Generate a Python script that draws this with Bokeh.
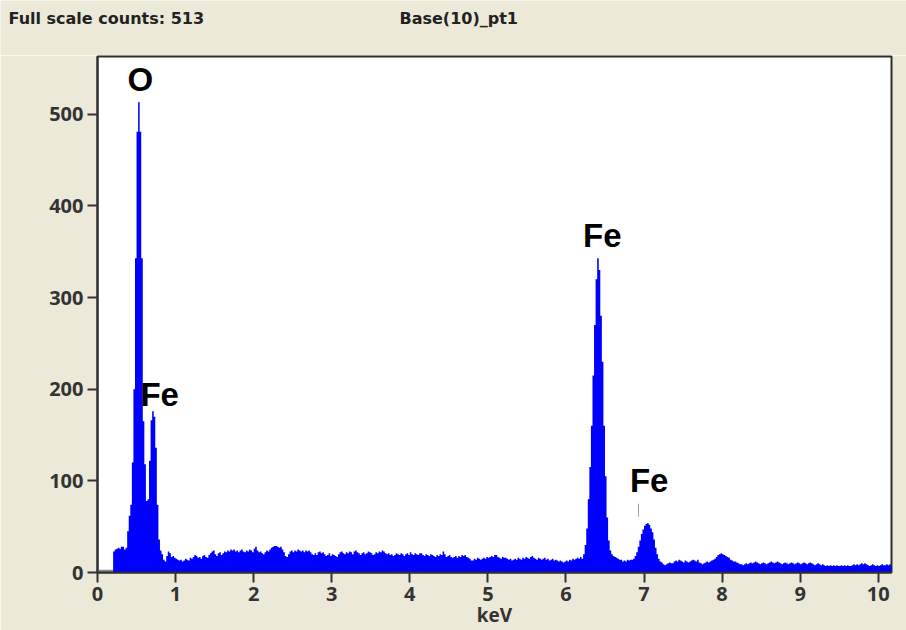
import numpy as np
from bokeh.plotting import figure
from bokeh.layouts import column
from bokeh.models import Range1d, FixedTicker
from bokeh.core.properties import value
from bokeh.embed import file_html
from bokeh.resources import INLINE

# ---------------- data ----------------
CH_START = 0.20      # keV, first recorded channel
CH_WIDTH = 0.02      # keV per channel
PRE_COUNTS = 3       # grey, below-threshold region 0 .. CH_START

counts_0 = [23, 25, 26, 27, 26, 28, 28, 25, 27, 45,
            62, 74, 120, 200, 343, 481, 513, 481, 343, 165,
            118, 78, 80, 122, 166, 176, 170, 136, 74, 36,
            24, 20, 14, 12, 18, 23, 21, 17, 18, 16]
counts_1 = [15, 14, 13, 14, 12, 13, 15, 14, 13, 16,
            15, 17, 19, 18, 16, 17, 15, 18, 19, 17,
            16, 19, 21, 23, 24, 20, 18, 21, 22, 19,
            21, 23, 22, 24, 23, 25, 24, 25, 23, 24,
            22, 24, 25, 23, 22, 24, 23, 25, 24, 22]
counts_2 = [26, 28, 24, 22, 23, 21, 20, 22, 24, 23,
            25, 27, 28, 29, 29, 28, 27, 28, 25, 22,
            18, 17, 20, 23, 24, 22, 24, 23, 25, 24,
            23, 24, 22, 24, 23, 24, 22, 20, 19, 21,
            19, 22, 23, 21, 22, 20, 18, 19, 21, 18]
counts_3 = [20, 19, 18, 17, 20, 22, 23, 21, 20, 22,
            21, 23, 22, 20, 23, 24, 22, 21, 19, 21,
            22, 20, 21, 23, 22, 21, 19, 20, 22, 21,
            23, 22, 24, 23, 21, 20, 21, 19, 20, 18,
            19, 21, 20, 19, 21, 20, 18, 20, 21, 19]
counts_4 = [22, 20, 19, 21, 20, 19, 21, 21, 19, 18,
            20, 19, 18, 20, 19, 18, 17, 19, 18, 20,
            19, 23, 20, 17, 18, 19, 17, 16, 17, 18,
            16, 18, 17, 19, 18, 19, 17, 16, 15, 13,
            13, 15, 14, 16, 15, 14, 15, 16, 15, 17]
counts_5 = [16, 17, 18, 17, 19, 19, 17, 16, 15, 17,
            16, 16, 15, 14, 15, 13, 14, 15, 14, 16,
            15, 14, 16, 15, 17, 16, 15, 17, 18, 16,
            15, 14, 16, 15, 14, 15, 16, 14, 15, 13,
            14, 15, 13, 14, 13, 12, 13, 12, 11, 12]
counts_6 = [13, 12, 14, 13, 15, 14, 15, 16, 15, 17,
            15, 20, 30, 48, 80, 115, 160, 215, 270, 320,
            343, 330, 280, 230, 160, 105, 60, 35, 24, 20,
            18, 17, 16, 15, 14, 14, 12, 13, 12, 14,
            13, 14, 14, 15, 18, 22, 28, 35, 42, 47]
counts_7 = [51, 53, 54, 52, 48, 44, 36, 27, 20, 15,
            12, 11, 9, 8, 9, 10, 11, 10, 10, 12,
            13, 12, 14, 13, 12, 11, 13, 12, 11, 12,
            13, 14, 13, 12, 14, 11, 10, 9, 10, 11,
            12, 11, 12, 13, 14, 15, 17, 19, 20, 21]
counts_8 = [20, 19, 18, 17, 16, 14, 13, 12, 12, 11,
            10, 9, 9, 8, 9, 10, 9, 10, 11, 10,
            11, 12, 11, 10, 9, 10, 11, 10, 9, 10,
            11, 12, 11, 10, 11, 12, 11, 10, 9, 10,
            11, 10, 9, 10, 11, 10, 9, 10, 11, 10]
counts_9 = [9, 10, 11, 10, 9, 10, 11, 10, 9, 8,
            9, 10, 9, 8, 9, 8, 7, 8, 7, 8,
            7, 8, 7, 8, 7, 7, 8, 7, 8, 7,
            8, 7, 7, 8, 9, 8, 9, 8, 9, 10,
            9, 10, 9, 8, 7, 8, 9, 8, 7, 8]
counts_10 = [7, 8, 9, 8, 8, 9, 8, 9, 8]

counts = (counts_0 + counts_1 + counts_2 + counts_3 + counts_4 + counts_5
          + counts_6 + counts_7 + counts_8 + counts_9 + counts_10)

x_ticks = [0, 1, 2, 3, 4, 5, 6, 7, 8, 9, 10]
y_ticks = [0, 100, 200, 300, 400, 500]

peak_labels = ["O", "Fe", "Fe", "Fe"]
peak_label_kev = [0.384, 0.55, 6.22, 6.82]
peak_label_counts = [538, 194, 368, 100]

header_texts = [f"Full scale counts: {max(counts)}", "Base(10)_pt1"]
header_x = [8, 399]     # pixel positions in the header strip
header_y = [18, 18]

x_title = "keV"

BG = "#ece9d8"
HEADER_H = 55

# ---------------- header strip ----------------
hdr = figure(width=906, height=HEADER_H, output_backend="svg", toolbar_location=None,
             x_range=Range1d(0, 906), y_range=Range1d(HEADER_H, 0),
             x_axis_type=None, y_axis_type=None, min_border=0)
hdr.frame_align = False
hdr.border_fill_color = BG
hdr.background_fill_color = BG
hdr.outline_line_color = None
hdr.grid.visible = False
hdr.text(x=header_x, y=header_y, text=header_texts,
         text_font=value("DejaVu Sans"), text_font_style="bold",
         text_font_size="16px", text_align="left", text_baseline="middle",
         text_color="#222222")

# ---------------- spectrum ----------------
p = figure(width=906, height=630 - HEADER_H, output_backend="svg", toolbar_location=None,
           x_range=Range1d(0, 10.17), y_range=Range1d(0, 563),
           min_border_left=97, min_border_right=15, min_border_top=1,
           min_border_bottom=58)
p.frame_align = False
p.border_fill_color = BG
p.background_fill_color = "white"
p.outline_line_color = "#2e2e2e"
p.outline_line_width = 2
p.grid.visible = False

for ax in (p.xaxis[0], p.yaxis[0]):
    ax.major_tick_out = 10
    ax.major_tick_in = 0
    ax.minor_tick_out = 0
    ax.minor_tick_in = 0
    ax.minor_tick_line_color = None
    ax.major_tick_line_color = "#333333"
    ax.major_tick_line_width = 2
    ax.axis_line_color = "#2e2e2e"
    ax.axis_line_width = 2
    ax.major_label_text_font = "Open Sans"
    ax.major_label_text_font_style = "bold"
    ax.major_label_text_font_size = "20px"
    ax.major_label_text_color = "#333333"
    ax.major_label_standoff = 4
p.xaxis.ticker = FixedTicker(ticks=x_ticks)
p.yaxis.ticker = FixedTicker(ticks=y_ticks)
p.xaxis.axis_label = x_title
p.xaxis.axis_label_text_font = "Open Sans"
p.xaxis.axis_label_text_font_style = "bold"
p.xaxis.axis_label_text_font_size = "19px"
p.xaxis.axis_label_text_color = "#333333"
p.xaxis.axis_label_standoff = -2

# grey stub below the threshold
p.quad(left=[0], right=[CH_START], bottom=[0], top=[PRE_COUNTS],
       fill_color="#8a8a8a", line_color=None)

# spectrum as filled steps
n = len(counts)
left = CH_START + CH_WIDTH * np.arange(n)
xs = np.column_stack([left, left + CH_WIDTH]).ravel()
ys = np.repeat(np.array(counts, dtype=float), 2)
p.varea(x=xs, y1=np.zeros_like(ys), y2=ys, fill_color="#0000ff")

# tiny marker line under the Fe K-beta label
p.segment(x0=[6.93], y0=[61], x1=[6.93], y1=[75], line_color="#9a9a9a", line_width=1)

p.text(x=peak_label_kev, y=peak_label_counts, text=peak_labels,
       text_font=value("Liberation Sans"), text_font_style="bold",
       text_font_size="33px", text_align="left", text_baseline="alphabetic",
       text_color="black")

layout = column(hdr, p, spacing=0)
open("out.html", "w").write(file_html(layout, INLINE))
